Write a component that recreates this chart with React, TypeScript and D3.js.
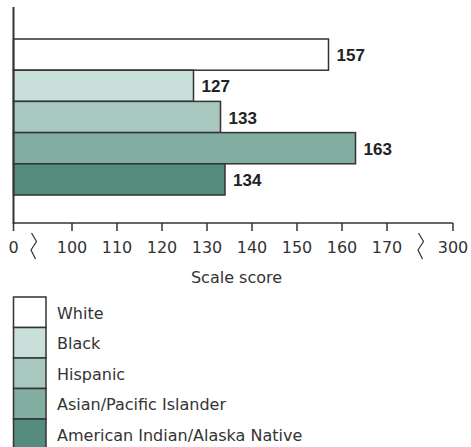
import React from 'react';
import * as d3 from 'd3';

const groups = ['White', 'Black', 'Hispanic', 'Asian/Pacific Islander', 'American Indian/Alaska Native'];
const scores = [157, 127, 133, 163, 134];
const colors = ['#ffffff', '#c9dfda', '#a8c7bf', '#82ada1', '#558c7e'];
const tickValues = [0, 100, 110, 120, 130, 140, 150, 160, 170, 300];

const width = 471;
const height = 447;
const ink = '#333';
const regular = "'DejaVu Sans', sans-serif";
const bold = "'Liberation Sans', Arial, sans-serif";

const App: React.FC = () => {
  // broken axis: 0 | 100..170 | 300
  const x = d3.scaleLinear().domain([0, 100, 170, 300]).range([13.5, 72, 387, 453]);
  const y = d3.scaleBand<string>().domain(groups).range([39, 195]).padding(0);
  const axisY = 223;
  const legendTop = 297;
  const legendRow = 30.5;

  const breakPath = (cx: number) =>
    d3.line()([
      [cx - 2.5, 233],
      [cx + 2.5, 241.5],
      [cx - 3, 250],
      [cx + 1.5, 259],
    ]) || '';

  return (
    <div style={{ position: 'fixed', left: 0, top: 0 }}>
      <svg width={width} height={height} style={{ display: 'block', background: '#fff' }}>
        {groups.map((g, i) => (
          <g key={g}>
            <rect
              x={x(0)}
              y={y(g)}
              width={x(scores[i]) - x(0)}
              height={y.bandwidth()}
              fill={colors[i]}
              stroke={ink}
              strokeWidth={1.5}
            />
            <text
              x={x(scores[i]) + 8}
              y={(y(g) || 0) + y.bandwidth() / 2 + 6.5}
              fontFamily={bold}
              fontWeight="bold"
              fontSize={17}
              fill="#222"
            >
              {scores[i]}
            </text>
          </g>
        ))}

        <line x1={x(0)} x2={x(0)} y1={7} y2={axisY + 1} stroke={ink} strokeWidth={2} />
        <line x1={x(0)} x2={x(300)} y1={axisY} y2={axisY} stroke={ink} strokeWidth={1.5} />
        {tickValues.map(t => (
          <g key={t} transform={`translate(${x(t)},0)`}>
            <line y1={axisY} y2={axisY + 8} stroke={ink} strokeWidth={1.5} />
            <text y={252.5} textAnchor="middle" fontFamily={regular} fontSize={16} fill={ink}>
              {t}
            </text>
          </g>
        ))}
        <path d={breakPath(34)} fill="none" stroke={ink} strokeWidth={1.2} />
        <path d={breakPath(421)} fill="none" stroke={ink} strokeWidth={1.2} />
        <text x={236.5} y={283} textAnchor="middle" fontFamily={regular} fontSize={16} fill={ink}>
          Scale score
        </text>

        {groups.map((g, i) => (
          <g key={`leg-${g}`} transform={`translate(0,${legendTop + i * legendRow})`}>
            <rect x={13.5} y={0} width={32.5} height={legendRow} fill={colors[i]} stroke={ink} strokeWidth={1.5} />
            <text x={57} y={legendRow / 2 + 6.5} fontFamily={regular} fontSize={16} fill={ink}>
              {g}
            </text>
          </g>
        ))}
      </svg>
    </div>
  );
};

export default App;
